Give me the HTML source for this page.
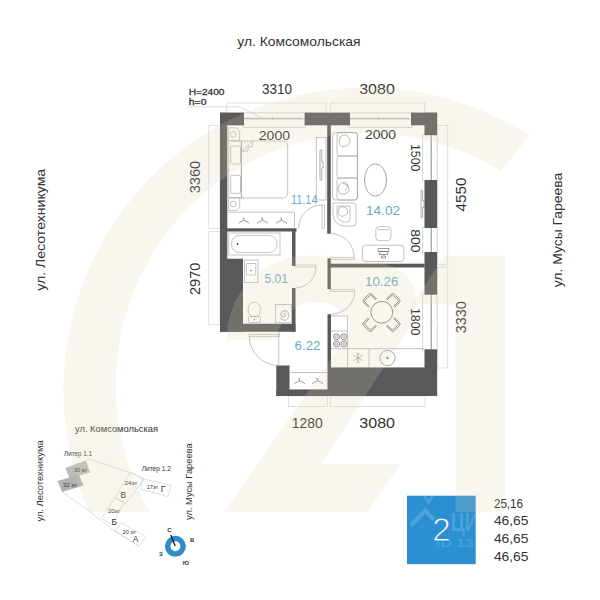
<!DOCTYPE html>
<html lang="ru">
<head>
<meta charset="utf-8">
<title>План квартиры</title>
<style>
html,body{margin:0;padding:0;background:#fff;}
body{width:600px;height:600px;overflow:hidden;font-family:"Liberation Sans",sans-serif;}
svg{display:block;}
</style>
</head>
<body>
<svg width="600" height="600" viewBox="0 0 600 600" font-family="'Liberation Sans', sans-serif">
<rect width="600" height="600" fill="#ffffff"/>
<defs><clipPath id="wmclip"><rect x="0" y="0" width="600" height="512"/></clipPath></defs>
<g id="dims">
<rect x="226.80" y="103.00" width="99.20" height="9.70" rx="0" fill="none" stroke="#cdcdcd" stroke-width="0.6"/>
<rect x="330.80" y="103.00" width="94.00" height="9.70" rx="0" fill="none" stroke="#cdcdcd" stroke-width="0.6"/>
<rect x="208.80" y="125.30" width="11.20" height="103.20" rx="0" fill="none" stroke="#cdcdcd" stroke-width="0.6"/>
<rect x="208.80" y="231.50" width="11.20" height="93.30" rx="0" fill="none" stroke="#cdcdcd" stroke-width="0.6"/>
<rect x="437.30" y="125.30" width="10.50" height="139.00" rx="0" fill="none" stroke="#cdcdcd" stroke-width="0.6"/>
<rect x="437.30" y="267.00" width="10.50" height="101.00" rx="0" fill="none" stroke="#cdcdcd" stroke-width="0.6"/>
<rect x="288.30" y="396.00" width="39.40" height="10.70" rx="0" fill="none" stroke="#cdcdcd" stroke-width="0.6"/>
<rect x="330.70" y="396.00" width="94.30" height="10.70" rx="0" fill="none" stroke="#cdcdcd" stroke-width="0.6"/>
</g>
<g id="windows">
<rect x="244.00" y="112.70" width="60.60" height="14.60" fill="#ffffff" />
<line x1="244.00" y1="112.90" x2="304.60" y2="112.90" stroke="#d2d2d2" stroke-width="0.5"/>
<rect x="243.00" y="119.10" width="62.60" height="8.20" rx="0" fill="#fdfdfd" stroke="#c2c2c2" stroke-width="0.6"/>
<line x1="244.00" y1="118.30" x2="302.60" y2="118.30" stroke="#999999" stroke-width="0.8"/>
<line x1="272.50" y1="116.90" x2="272.50" y2="119.90" stroke="#b0b0b0" stroke-width="0.6"/>
<rect x="350.00" y="112.70" width="61.00" height="14.60" fill="#ffffff" />
<line x1="350.00" y1="112.90" x2="411.00" y2="112.90" stroke="#d2d2d2" stroke-width="0.5"/>
<rect x="349.00" y="119.10" width="63.00" height="8.20" rx="0" fill="#fdfdfd" stroke="#c2c2c2" stroke-width="0.6"/>
<line x1="350.00" y1="118.30" x2="409.00" y2="118.30" stroke="#999999" stroke-width="0.8"/>
<line x1="378.50" y1="116.90" x2="378.50" y2="119.90" stroke="#b0b0b0" stroke-width="0.6"/>
<rect x="422.40" y="135.20" width="14.70" height="44.80" fill="#ffffff" />
<line x1="436.90" y1="135.20" x2="436.90" y2="180.00" stroke="#d2d2d2" stroke-width="0.5"/>
<rect x="422.40" y="134.40" width="8.30" height="46.40" rx="0" fill="#fdfdfd" stroke="#c2c2c2" stroke-width="0.6"/>
<line x1="431.50" y1="135.20" x2="431.50" y2="180.00" stroke="#999999" stroke-width="0.8"/>
<line x1="429.90" y1="157.60" x2="432.90" y2="157.60" stroke="#b0b0b0" stroke-width="0.6"/>
<rect x="422.40" y="228.00" width="14.70" height="24.00" fill="#ffffff" />
<line x1="436.90" y1="228.00" x2="436.90" y2="252.00" stroke="#d2d2d2" stroke-width="0.5"/>
<rect x="422.40" y="227.20" width="8.30" height="25.60" rx="0" fill="#fdfdfd" stroke="#c2c2c2" stroke-width="0.6"/>
<line x1="431.50" y1="228.00" x2="431.50" y2="252.00" stroke="#999999" stroke-width="0.8"/>
<line x1="429.90" y1="240.00" x2="432.90" y2="240.00" stroke="#b0b0b0" stroke-width="0.6"/>
<rect x="422.40" y="294.70" width="14.70" height="54.60" fill="#ffffff" />
<line x1="436.90" y1="294.70" x2="436.90" y2="349.30" stroke="#d2d2d2" stroke-width="0.5"/>
<rect x="422.40" y="293.90" width="8.30" height="56.20" rx="0" fill="#fdfdfd" stroke="#c2c2c2" stroke-width="0.6"/>
<line x1="431.50" y1="294.70" x2="431.50" y2="349.30" stroke="#999999" stroke-width="0.8"/>
<line x1="429.90" y1="322.00" x2="432.90" y2="322.00" stroke="#b0b0b0" stroke-width="0.6"/>
<path d="M188,106.8 L240,106.8 L262.7,118.3" fill="none" stroke="#c4c4c4" stroke-width="0.6" />
</g>
<g id="walls">
<rect x="220.00" y="112.70" width="24.00" height="12.60" fill="#58595b" />
<rect x="304.60" y="112.70" width="45.40" height="12.60" fill="#58595b" />
<rect x="411.00" y="112.70" width="26.10" height="12.60" fill="#58595b" />
<rect x="220.00" y="112.70" width="7.30" height="146.30" fill="#58595b" />
<rect x="220.00" y="258.75" width="23.00" height="73.00" fill="#58595b" />
<rect x="220.00" y="323.75" width="75.50" height="8.00" fill="#58595b" />
<rect x="424.50" y="112.70" width="12.60" height="22.50" fill="#58595b" />
<rect x="424.50" y="180.00" width="12.60" height="48.00" fill="#58595b" />
<rect x="424.50" y="252.00" width="12.60" height="42.70" fill="#58595b" />
<rect x="424.50" y="349.30" width="12.60" height="46.70" fill="#58595b" />
<rect x="327.50" y="367.50" width="109.60" height="28.50" fill="#58595b" />
<rect x="276.30" y="365.50" width="13.20" height="30.50" fill="#58595b" />
<rect x="276.30" y="389.50" width="51.70" height="6.50" fill="#58595b" />
<rect x="327.50" y="314.20" width="3.50" height="53.80" fill="#58595b" />
<rect x="327.20" y="125.00" width="3.60" height="108.70" fill="#58595b" />
<rect x="227.00" y="228.30" width="69.50" height="3.20" fill="#58595b" />
<rect x="292.00" y="231.00" width="3.50" height="35.00" fill="#58595b" />
<rect x="292.00" y="288.00" width="3.50" height="43.75" fill="#58595b" />
<rect x="328.00" y="263.70" width="96.60" height="3.80" fill="#58595b" />
<rect x="327.50" y="258.30" width="3.30" height="30.90" fill="#58595b" />
</g>
<g id="doors">
<rect x="322.00" y="205.00" width="2.60" height="23.40" rx="0" fill="#fff" stroke="#9a9a9a" stroke-width="0.5"/>
<path d="M322,205 A23.4,23.4 0 0 0 298.6,228.4" fill="none" stroke="#9b9b9b" stroke-width="0.6" />
<rect x="295.50" y="265.00" width="20.50" height="2.00" rx="0" fill="#fff" stroke="#9a9a9a" stroke-width="0.5"/>
<path d="M316,267 A21,21 0 0 1 295.5,288" fill="none" stroke="#9b9b9b" stroke-width="0.6" />
<rect x="330.80" y="257.50" width="23.40" height="2.10" rx="0" fill="#fff" stroke="#9a9a9a" stroke-width="0.5"/>
<path d="M354.2,257.5 A23.6,23.9 0 0 0 330.8,233.6" fill="none" stroke="#9b9b9b" stroke-width="0.6" />
<rect x="330.80" y="289.20" width="23.80" height="2.00" rx="0" fill="#fff" stroke="#9a9a9a" stroke-width="0.5"/>
<path d="M354.6,291.2 A23.8,23 0 0 1 330.8,314.2" fill="none" stroke="#9b9b9b" stroke-width="0.6" />
<rect x="249.20" y="334.20" width="30.00" height="2.00" rx="0" fill="#fff" stroke="#9a9a9a" stroke-width="0.5"/>
<path d="M249.2,336.2 A29.5,29.5 0 0 0 278.7,365.5" fill="none" stroke="#9b9b9b" stroke-width="0.6" />
<line x1="278.75" y1="331.75" x2="278.75" y2="365.50" stroke="#9a9a9a" stroke-width="0.6"/>
</g>
<g id="furn">
<path d="M228.7,127.8 h6 a5,5 0 0 1 5,5 v8 h-11 z" fill="none" stroke="#9b9b9b" stroke-width="0.6" />
<circle cx="233.3" cy="134.4" r="2.9" fill="none" stroke="#9b9b9b" stroke-width="0.6"/>
<path d="M228.7,210.6 h6 a5,5 0 0 0 5,-5 v-8 h-11 z" fill="none" stroke="#9b9b9b" stroke-width="0.6" />
<circle cx="233.3" cy="204" r="2.9" fill="none" stroke="#9b9b9b" stroke-width="0.6"/>
<rect x="230.70" y="146.00" width="9.80" height="18.00" rx="1.2" fill="none" stroke="#9b9b9b" stroke-width="0.6"/>
<rect x="230.70" y="175.30" width="9.80" height="18.00" rx="1.2" fill="none" stroke="#9b9b9b" stroke-width="0.6"/>
<rect x="228.80" y="141.00" width="12.50" height="57.00" rx="0" fill="none" stroke="#9b9b9b" stroke-width="0.6"/>
<path d="M241.3,141 H283 a4.7,4.7 0 0 1 4.7,4.7 V193.3 a4.7,4.7 0 0 1 -4.7,4.7 H241.3 z" fill="none" stroke="#9b9b9b" stroke-width="0.6" />
<path d="M241.3,151.5 L252.5,141.2 v5.5 h-4.5 v4 z" fill="none" stroke="#9b9b9b" stroke-width="0.6" />
<path d="M227.3,212.2 H294.5 V228.3" fill="none" stroke="#9b9b9b" stroke-width="0.6" />
<path d="M238.4,223.4 q1,-1.4 2.5,-1.6 L243.9,220.2 L246.9,221.8 q1.5,0.2 2.5,1.6 M243.9,220.2 v-2.2 h-1.2" fill="none" stroke="#707070" stroke-width="0.7" />
<path d="M256.9,223.4 q1,-1.4 2.5,-1.6 L262.4,220.2 L265.4,221.8 q1.5,0.2 2.5,1.6 M262.4,220.2 v-2.2 h-1.2" fill="none" stroke="#707070" stroke-width="0.7" />
<path d="M276.0,223.4 q1,-1.4 2.5,-1.6 L281.5,220.2 L284.5,221.8 q1.5,0.2 2.5,1.6 M281.5,220.2 v-2.2 h-1.2" fill="none" stroke="#707070" stroke-width="0.7" />
<rect x="316.20" y="137.50" width="9.80" height="62.50" rx="0" fill="none" stroke="#9b9b9b" stroke-width="0.6"/>
<path d="M320,150 h1.8 v12 h1.2 v6 h-1.2 v12 h-1.8 z" fill="none" stroke="#7a7a7a" stroke-width="0.6" />
<rect x="332.50" y="132.50" width="25.00" height="67.50" rx="3" fill="none" stroke="#9b9b9b" stroke-width="0.6"/>
<rect x="337.00" y="132.50" width="20.50" height="23.50" rx="2.5" fill="none" stroke="#9b9b9b" stroke-width="0.6"/>
<rect x="337.00" y="156.00" width="20.50" height="22.00" rx="1" fill="none" stroke="#9b9b9b" stroke-width="0.6"/>
<rect x="337.00" y="178.00" width="20.50" height="22.00" rx="2.5" fill="none" stroke="#9b9b9b" stroke-width="0.6"/>
<path d="M340,137 q6,-5 9,1 q3,5 -3,8 q-6,2 -7,-3 z M339,185 q5,-5 9,0 q3,6 -3,9 q-6,1 -7,-4 z M343,183 l5,3 l-3,5" fill="none" stroke="#8a8a8a" stroke-width="0.6" />
<path d="M333,203 h20 a3,3 0 0 1 3,3 v17 a3,3 0 0 1 -3,3 h-9 a11.5,11.5 0 0 1 -11,-11.5 z" fill="none" stroke="#9b9b9b" stroke-width="0.6" />
<path d="M337,206 h13 v13 a3,3 0 0 1 -3,3 h-3 a7.5,7.5 0 0 1 -7,-7.5 z" fill="none" stroke="#9b9b9b" stroke-width="0.6" />
<path d="M339,208 q5,-3 8,1 q2,5 -3,7 q-5,1 -6,-3 z" fill="none" stroke="#8a8a8a" stroke-width="0.6" />
<ellipse cx="375.5" cy="180" rx="11" ry="16.2" fill="none" stroke="#8d8d8d" stroke-width="0.8"/>
<path d="M421,190.7 h1.6 v10 h1.4 v6.6 h-1.4 v10 h-1.6 z" fill="none" stroke="#7a7a7a" stroke-width="0.6" />
<rect x="375.80" y="226.60" width="15.20" height="14.00" rx="3.5" fill="none" stroke="#9b9b9b" stroke-width="0.6"/>
<line x1="378.00" y1="229.60" x2="389.00" y2="229.60" stroke="#9b9b9b" stroke-width="0.6"/>
<rect x="362.50" y="245.20" width="41.30" height="16.30" rx="3" fill="none" stroke="#9b9b9b" stroke-width="0.6"/>
<path d="M378,248.5 h11 v3 h-11 z M380,251.5 h7 l1,3 h-9 z M381.5,256 h4 v2 h-4 z" fill="none" stroke="#5a5a5a" stroke-width="0.6" />
<rect x="228.80" y="233.00" width="51.20" height="22.00" rx="0" fill="none" stroke="#9b9b9b" stroke-width="0.6"/>
<rect x="231.50" y="235.50" width="45.50" height="17.00" rx="8" fill="none" stroke="#9b9b9b" stroke-width="0.6"/>
<circle cx="237.5" cy="244" r="0.9" fill="#555"/>
<rect x="244.50" y="260.00" width="13.50" height="22.50" rx="0" fill="none" stroke="#9b9b9b" stroke-width="0.6"/>
<rect x="246.30" y="263.50" width="9.50" height="11.50" rx="0.8" fill="none" stroke="#9b9b9b" stroke-width="0.6"/>
<circle cx="251" cy="270.5" r="0.7" fill="#555"/>
<ellipse cx="254.3" cy="309.5" rx="6.3" ry="7.3" fill="none" stroke="#9b9b9b" stroke-width="0.6"/>
<rect x="248.50" y="316.50" width="12.00" height="6.00" rx="0.8" fill="none" stroke="#9b9b9b" stroke-width="0.6"/>
<circle cx="254.3" cy="319.6" r="0.6" fill="#555"/>
<rect x="275.50" y="304.50" width="15.80" height="18.30" rx="0" fill="none" stroke="#9b9b9b" stroke-width="0.6"/>
<path d="M283.4,314 a1.2,1.2 0 0 1 2.2,0.6 a2.6,2.6 0 0 1 -4.6,1.2 a4,4 0 0 1 6.6,-4 a5.3,5.3 0 0 1 -2.5,8.6 a6,6 0 0 1 -5.4,-3" fill="none" stroke="#8a8a8a" stroke-width="0.7" />
<rect x="289.50" y="372.50" width="38.00" height="17.00" rx="0" fill="none" stroke="#9b9b9b" stroke-width="0.6"/>
<path d="M294.0,383.9 q1,-1.4 2.5,-1.6 L299.5,380.7 L302.5,382.3 q1.5,0.2 2.5,1.6 M299.5,380.7 v-2.2 h-1.2" fill="none" stroke="#707070" stroke-width="0.7" />
<path d="M312.0,383.9 q1,-1.4 2.5,-1.6 L317.5,380.7 L320.5,382.3 q1.5,0.2 2.5,1.6 M317.5,380.7 v-2.2 h-1.2" fill="none" stroke="#707070" stroke-width="0.7" />
<path d="M331.2,316 H347.5 V348.7 H424 M331.2,367.5 H424 M347.5,348.7 V367.5 M331.2,331 H347.5 M331.2,348.7 H347.5 M369,348.7 V367.5" fill="none" stroke="#9b9b9b" stroke-width="0.6" />
<circle cx="336.6" cy="336.8" r="3" fill="none" stroke="#6f6f6f" stroke-width="0.8"/>
<circle cx="336.6" cy="336.8" r="1.2" fill="none" stroke="#6f6f6f" stroke-width="0.6"/>
<circle cx="343.9" cy="336.8" r="3" fill="none" stroke="#6f6f6f" stroke-width="0.8"/>
<circle cx="343.9" cy="336.8" r="1.2" fill="none" stroke="#6f6f6f" stroke-width="0.6"/>
<circle cx="336.6" cy="344" r="3" fill="none" stroke="#6f6f6f" stroke-width="0.8"/>
<circle cx="336.6" cy="344" r="1.2" fill="none" stroke="#6f6f6f" stroke-width="0.6"/>
<circle cx="343.9" cy="344" r="3" fill="none" stroke="#6f6f6f" stroke-width="0.8"/>
<circle cx="343.9" cy="344" r="1.2" fill="none" stroke="#6f6f6f" stroke-width="0.6"/>
<path d="M358,352.7 v10.6 M353.4,355.3 l9.2,5.3 M353.4,360.7 l9.2,-5.3 M356.4,353.6 l1.6,1.4 l1.6,-1.4 M356.4,362.4 l1.6,-1.4 l1.6,1.4" fill="none" stroke="#8a8a8a" stroke-width="0.6" />
<circle cx="387.5" cy="358" r="7.6" fill="none" stroke="#7f7f7f" stroke-width="0.7"/>
<circle cx="387.5" cy="358" r="1" fill="#555"/>
<circle cx="381.8" cy="312.3" r="10.9" fill="none" stroke="#6a6a6a" stroke-width="0.8"/>
<g transform="translate(392.8,300.8) rotate(45)"><path d="M-4.6,3.5 v-6 a1.5,1.5 0 0 1 1.5,-1.5 h6.2 a1.5,1.5 0 0 1 1.5,1.5 v6 M-5.8,3.5 v-7 a2.2,2.2 0 0 1 2.2,-2.2 h7.2 a2.2,2.2 0 0 1 2.2,2.2 v7" fill="none" stroke="#5e5e5e" stroke-width="0.75"/></g>
<g transform="translate(392.8,324.2) rotate(135)"><path d="M-4.6,3.5 v-6 a1.5,1.5 0 0 1 1.5,-1.5 h6.2 a1.5,1.5 0 0 1 1.5,1.5 v6 M-5.8,3.5 v-7 a2.2,2.2 0 0 1 2.2,-2.2 h7.2 a2.2,2.2 0 0 1 2.2,2.2 v7" fill="none" stroke="#5e5e5e" stroke-width="0.75"/></g>
<g transform="translate(370.2,324.2) rotate(225)"><path d="M-4.6,3.5 v-6 a1.5,1.5 0 0 1 1.5,-1.5 h6.2 a1.5,1.5 0 0 1 1.5,1.5 v6 M-5.8,3.5 v-7 a2.2,2.2 0 0 1 2.2,-2.2 h7.2 a2.2,2.2 0 0 1 2.2,2.2 v7" fill="none" stroke="#5e5e5e" stroke-width="0.75"/></g>
<g transform="translate(370.2,300.8) rotate(-45)"><path d="M-4.6,3.5 v-6 a1.5,1.5 0 0 1 1.5,-1.5 h6.2 a1.5,1.5 0 0 1 1.5,1.5 v6 M-5.8,3.5 v-7 a2.2,2.2 0 0 1 2.2,-2.2 h7.2 a2.2,2.2 0 0 1 2.2,2.2 v7" fill="none" stroke="#5e5e5e" stroke-width="0.75"/></g>
</g>
<g id="txt" font-family="'Liberation Sans', sans-serif">
<text x="237.30" y="46.00" font-size="13.4" fill="#333333" font-weight="400" text-anchor="start" textLength="123.2" lengthAdjust="spacingAndGlyphs" >ул. Комсомольская</text>
<text transform="translate(45.00,290.80) rotate(-90)" font-size="13.4" fill="#333333" font-weight="400" text-anchor="start" textLength="122.0" lengthAdjust="spacingAndGlyphs" >ул. Лесотехникума</text>
<text transform="translate(561.60,287.30) rotate(-90)" font-size="13.4" fill="#333333" font-weight="400" text-anchor="start" textLength="114.6" lengthAdjust="spacingAndGlyphs" >ул. Мусы Гареева</text>
<text x="188.80" y="94.50" font-size="9.3" fill="#333" font-weight="400" text-anchor="start" textLength="35.7" lengthAdjust="spacingAndGlyphs" stroke="#333" stroke-width="0.3">H=2400</text>
<text x="188.80" y="104.50" font-size="9.3" fill="#333" font-weight="400" text-anchor="start" textLength="17.7" lengthAdjust="spacingAndGlyphs" stroke="#333" stroke-width="0.3">h=0</text>
<text x="262.00" y="94.20" font-size="14.6" fill="#333333" font-weight="400" text-anchor="start" textLength="30.0" lengthAdjust="spacingAndGlyphs" >3310</text>
<text x="359.20" y="94.20" font-size="14.6" fill="#333333" font-weight="400" text-anchor="start" textLength="35.6" lengthAdjust="spacingAndGlyphs" >3080</text>
<text x="291.70" y="428.30" font-size="14.6" fill="#333333" font-weight="400" text-anchor="start" textLength="31.0" lengthAdjust="spacingAndGlyphs" >1280</text>
<text x="359.30" y="428.30" font-size="14.6" fill="#333333" font-weight="400" text-anchor="start" textLength="35.7" lengthAdjust="spacingAndGlyphs" >3080</text>
<text transform="translate(200.40,193.30) rotate(-90)" font-size="14.6" fill="#333333" font-weight="400" text-anchor="start" textLength="32.5" lengthAdjust="spacingAndGlyphs" >3360</text>
<text transform="translate(200.40,295.00) rotate(-90)" font-size="14.6" fill="#333333" font-weight="400" text-anchor="start" textLength="32.3" lengthAdjust="spacingAndGlyphs" >2970</text>
<text transform="translate(466.00,211.40) rotate(-90)" font-size="14.6" fill="#333333" font-weight="400" text-anchor="start" textLength="33.8" lengthAdjust="spacingAndGlyphs" >4550</text>
<text transform="translate(466.00,333.20) rotate(-90)" font-size="14.6" fill="#333333" font-weight="400" text-anchor="start" textLength="32.0" lengthAdjust="spacingAndGlyphs" >3330</text>
<text x="258.80" y="139.50" font-size="13" fill="#333333" font-weight="400" text-anchor="start" textLength="31.2" lengthAdjust="spacingAndGlyphs" >2000</text>
<text x="365.00" y="139.30" font-size="13" fill="#333333" font-weight="400" text-anchor="start" textLength="31.0" lengthAdjust="spacingAndGlyphs" >2000</text>
<text transform="translate(411.00,144.00) rotate(90)" font-size="13" fill="#333333" font-weight="400" text-anchor="start" textLength="27.5" lengthAdjust="spacingAndGlyphs" >1500</text>
<text transform="translate(411.00,229.30) rotate(90)" font-size="13" fill="#333333" font-weight="400" text-anchor="start" textLength="23.2" lengthAdjust="spacingAndGlyphs" >800</text>
<text transform="translate(411.00,308.00) rotate(90)" font-size="13" fill="#333333" font-weight="400" text-anchor="start" textLength="27.5" lengthAdjust="spacingAndGlyphs" >1800</text>
<text x="291.00" y="204.00" font-size="13.2" fill="#66adc7" font-weight="400" text-anchor="start" textLength="26.5" lengthAdjust="spacingAndGlyphs" >11.14</text>
<text x="366.00" y="215.00" font-size="13.2" fill="#66adc7" font-weight="400" text-anchor="start" textLength="34.0" lengthAdjust="spacingAndGlyphs" >14.02</text>
<text x="264.50" y="282.50" font-size="13.2" fill="#66adc7" font-weight="400" text-anchor="start" textLength="23.5" lengthAdjust="spacingAndGlyphs" >5.01</text>
<text x="365.00" y="285.80" font-size="13.2" fill="#66adc7" font-weight="400" text-anchor="start" textLength="33.3" lengthAdjust="spacingAndGlyphs" >10.26</text>
<text x="294.50" y="349.50" font-size="13.2" fill="#66adc7" font-weight="400" text-anchor="start" textLength="26.0" lengthAdjust="spacingAndGlyphs" >6.22</text>
</g>
<g id="minimap" font-family="'Liberation Sans', sans-serif">
<polygon points="65.2,468 85.8,460.6 90,472.5 69.5,478" fill="#bcbcbc"/>
<polygon points="57.6,481 79,474.7 83.6,485.5 62,492" fill="#b3b3b3"/>
<path d="M85.8,460.6 L90.0,459.5 L130.0,472.5 L144.0,479.0" fill="none" stroke="#c9c9c9" stroke-width="0.6"/>
<path d="M62.0,492.0 L90.0,511.7 L113.0,530.0 L139.0,546.3" fill="none" stroke="#c9c9c9" stroke-width="0.6"/>
<path d="M130.0,472.5 L144.0,479.0 L125.8,503.3 L115.0,497.5 Z" fill="none" stroke="#c9c9c9" stroke-width="0.6"/>
<path d="M115.0,497.5 L124.0,502.5 L111.7,525.0 L101.7,518.3 Z" fill="none" stroke="#c9c9c9" stroke-width="0.6"/>
<path d="M120.8,522.5 L145.8,536.7 L139.0,546.3 L115.0,530.8 Z" fill="none" stroke="#c9c9c9" stroke-width="0.6"/>
<path d="M143.3,479.0 L170.8,485.0 L168.3,496.7 L140.0,489.0 Z" fill="none" stroke="#c9c9c9" stroke-width="0.6"/>
<text x="75.00" y="431.50" font-size="9.6" fill="#333" font-weight="400" textLength="83.0" lengthAdjust="spacingAndGlyphs">ул. Комсомольская</text>
<text transform="translate(42.50,521.60) rotate(-90)" font-size="9.6" fill="#333" font-weight="400" textLength="81.2" lengthAdjust="spacingAndGlyphs">ул. Лесотехникума</text>
<text transform="translate(192.20,520.00) rotate(-90)" font-size="9.6" fill="#333" font-weight="400" textLength="76.6" lengthAdjust="spacingAndGlyphs">ул. Мусы Гареева</text>
<text x="64.00" y="456.00" font-size="7.6" fill="#333" font-weight="400" textLength="28.0" lengthAdjust="spacingAndGlyphs">Литер 1.1</text>
<text x="141.70" y="470.50" font-size="7.4" fill="#333" font-weight="400" textLength="29.2" lengthAdjust="spacingAndGlyphs">Литер 1.2</text>
<text x="74.00" y="472.00" font-size="6" fill="#333" font-weight="400" textLength="13.0" lengthAdjust="spacingAndGlyphs">30 эт</text>
<text x="63.00" y="487.00" font-size="6" fill="#333" font-weight="400" textLength="14.0" lengthAdjust="spacingAndGlyphs">32 эт</text>
<text x="124.50" y="485.20" font-size="5.8" fill="#333" font-weight="400" textLength="13.0" lengthAdjust="spacingAndGlyphs">24эт</text>
<text x="120.60" y="497.70" font-size="8.4" fill="#333" font-weight="400">В</text>
<text x="108.00" y="512.70" font-size="5.8" fill="#333" font-weight="400" textLength="12.0" lengthAdjust="spacingAndGlyphs">20эт</text>
<text x="111.50" y="525.20" font-size="8.4" fill="#333" font-weight="400">Б</text>
<text x="122.50" y="534.20" font-size="5.8" fill="#333" font-weight="400" textLength="13.3" lengthAdjust="spacingAndGlyphs">20 эт</text>
<text x="132.80" y="541.70" font-size="8.4" fill="#333" font-weight="400">А</text>
<text x="146.70" y="489.20" font-size="5.8" fill="#333" font-weight="400" textLength="11.6" lengthAdjust="spacingAndGlyphs">17эт</text>
<text x="160.80" y="491.70" font-size="8.8" fill="#333" font-weight="400">Г</text>
</g>
<g id="compass" font-family="'Liberation Sans', sans-serif">
<circle cx="175.4" cy="546.3" r="7.75" fill="none" stroke="#2d8cc8" stroke-width="5.5"/>
<line x1="170.9" y1="535.3" x2="175" y2="545.5" stroke="#111" stroke-width="1.25" stroke-linecap="round"/>
<text x="167.30" y="531.60" font-size="6" fill="#333" font-weight="700">С</text>
<text x="190.00" y="542.40" font-size="6" fill="#333" font-weight="700">В</text>
<text x="158.90" y="555.50" font-size="6" fill="#333" font-weight="700">З</text>
<text x="182.80" y="564.70" font-size="6" fill="#333" font-weight="700">Ю</text>
</g>
<g id="bluebox" font-family="'Liberation Sans', sans-serif">
<rect x="407" y="495.7" width="68.7" height="68.5" fill="#2a90d1"/>
<clipPath id="bbclip"><rect x="407" y="495.7" width="68.7" height="68.5"/></clipPath>
<g fill="none" stroke="#ffffff" stroke-opacity="0.17" clip-path="url(#bbclip)">
<path d="M410.7,525.5 L425.3,510.7 L433.5,519.5" stroke-width="4.4"/>
<path d="M424.3,495.5 L428.7,502.3 L433.1,495.5" stroke-width="2.4"/>
</g>
<text x="450.8" y="530.6" font-size="26.5" font-weight="700" fill="#ffffff" fill-opacity="0.17" textLength="55" lengthAdjust="spacingAndGlyphs" clip-path="url(#bbclip)">ЦИАН</text>
<text x="436" y="546.6" font-size="10" font-weight="700" fill="#ffffff" fill-opacity="0.15" textLength="38" lengthAdjust="spacingAndGlyphs" clip-path="url(#bbclip)">ID 13</text>
<text x="432.2" y="540.7" font-size="33.4" fill="#ffffff" stroke="#2a90d1" stroke-width="0.9" textLength="18.5" lengthAdjust="spacingAndGlyphs">2</text>
<text x="493.90" y="508.20" font-size="12.6" fill="#333" font-weight="400" textLength="29.2" lengthAdjust="spacingAndGlyphs">25,16</text>
<text x="493.90" y="525.40" font-size="12.6" fill="#333" font-weight="400" textLength="34.6" lengthAdjust="spacingAndGlyphs">46,65</text>
<text x="493.90" y="543.10" font-size="12.6" fill="#333" font-weight="400" textLength="34.6" lengthAdjust="spacingAndGlyphs">46,65</text>
<text x="493.90" y="561.20" font-size="12.6" fill="#333" font-weight="400" textLength="34.6" lengthAdjust="spacingAndGlyphs">46,65</text>
</g>
<g id="wm" clip-path="url(#wmclip)" fill="#e1d2af" fill-opacity="0.2">
<path d="M529.4,135.4 A302.5,302.5 0 0 0 118.2,563.5 L161.1,529.5 A252,252 0 0 1 501.0,171.3 Z"/>
<path d="M227,340 A82,82 0 0 1 308,255.5 C383,255.5 416,268 416,298 C416,320 405,336 395,350 L321,464 L400.5,464 L367.5,512 L224,512 L350.4,331 C348,314 336,302 318,302 C295,302 279,318 277,340 Z"/>
<path d="M445,255.5 L505,255.5 L505,512 L455.5,512 L455.5,304.5 L411.5,304.5 Z"/>
</g>
</svg>
</body>
</html>
